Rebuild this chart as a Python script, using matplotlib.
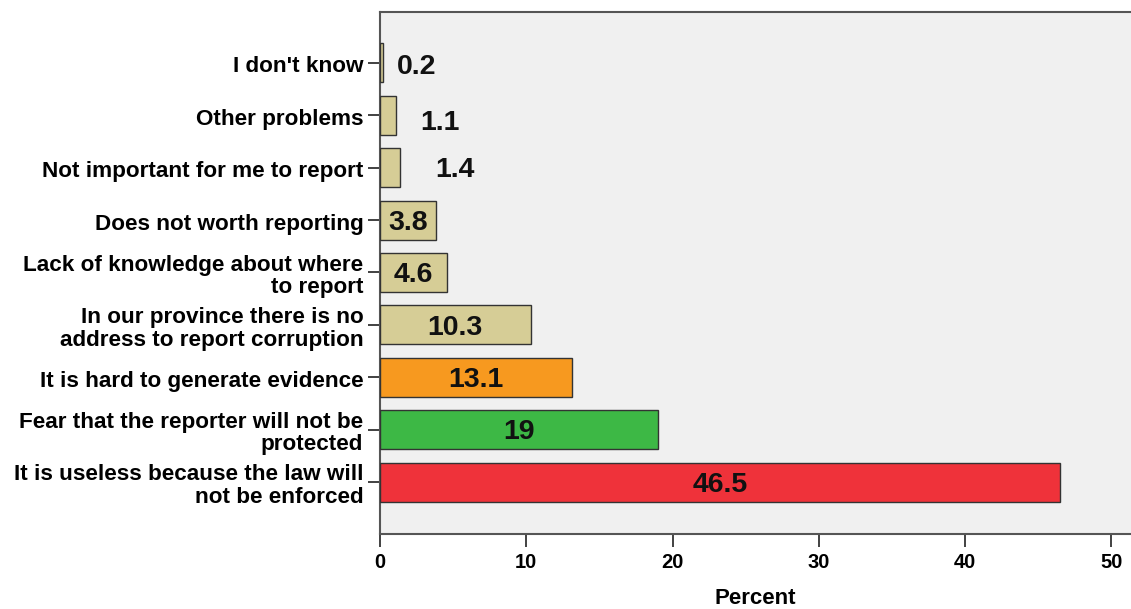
import matplotlib
matplotlib.use("Agg")
import matplotlib.pyplot as plt
from matplotlib.transforms import ScaledTranslation

categories = [
    "I don't know",
    "Other problems",
    "Not important for me to report",
    "Does not worth reporting",
    "Lack of knowledge about where\nto report",
    "In our province there is no\naddress to report corruption",
    "It is hard to generate evidence",
    "Fear that the reporter will not be\nprotected",
    "It is useless because the law will\nnot be enforced",
]
values = [0.2, 1.1, 1.4, 3.8, 4.6, 10.3, 13.1, 19, 46.5]
value_labels = ["0.2", "1.1", "1.4", "3.8", "4.6", "10.3", "13.1", "19", "46.5"]
xticks = [0, 10, 20, 30, 40, 50]

khaki = "#D6CD96"
colors = [khaki] * 6 + ["#F7991F", "#3DB845", "#EF323A"]
# label placement for small bars (outside), in data units added to value
outside_offset = {0: 2.3, 1: 3.0, 2: 3.7}
outside_dy = {0: 0.08, 1: 0.15, 2: 0.05}

plt.rcParams["font.family"] = ["Liberation Sans", "DejaVu Sans"]
plt.rcParams["font.weight"] = "bold"

fig = plt.figure(figsize=(11.31, 6.09), dpi=100)
ax = fig.add_axes([380 / 1131, 1 - 534 / 609, 1 - 380 / 1131, (534 - 12) / 609])
ax.set_facecolor("#F0F0F0")

ypos = list(range(len(categories)))
ax.barh(ypos, values, height=0.745, color=colors, edgecolor="#333333", linewidth=1.0, zorder=3)

for i, (v, lab) in enumerate(zip(values, value_labels)):
    if i in outside_offset:
        ax.text(v + outside_offset[i], i + outside_dy[i], lab, ha="center", va="center",
                fontsize=20.5, fontweight="bold", color="#111111", zorder=4)
    else:
        ax.text(v / 2, i + 0.05, lab, ha="center", va="center",
                fontsize=20.5, fontweight="bold", color="#111111", zorder=4)

ax.set_yticks(ypos)
ax.set_yticklabels(categories, fontsize=16.2, fontweight="bold", linespacing=1.08)
ax.set_ylim(8.99, -0.97)
ax.set_xlim(0, 51.35)
ax.set_xticks(xticks)
ax.set_xticklabels([str(t) for t in xticks], fontsize=14.5, fontweight="bold")
ax.set_xlabel("Percent", fontsize=16, fontweight="bold", labelpad=11)

for s in ["left", "top", "bottom"]:
    ax.spines[s].set_color("#555555")
    ax.spines[s].set_linewidth(1.5)
ax.spines["right"].set_visible(False)
ax.tick_params(axis="both", direction="out", length=9, width=1.3, color="#333333")
ax.tick_params(axis="y", pad=3)
ax.tick_params(axis="x", pad=5)

shift = ScaledTranslation(0, -4 / 100, fig.dpi_scale_trans)
for t in ax.get_yticklabels():
    t.set_verticalalignment("center")
    t.set_transform(t.get_transform() + shift)

fig.savefig("out.png", dpi=100, facecolor="white")
